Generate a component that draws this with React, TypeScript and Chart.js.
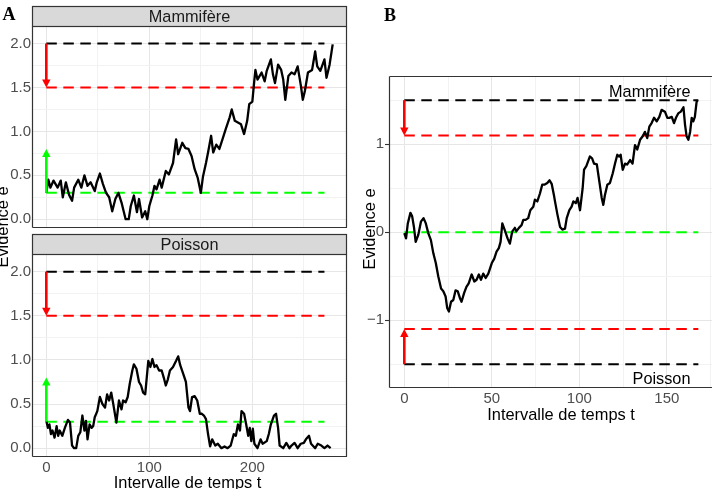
import React, { useEffect, useRef } from 'react';
import { Chart, registerables } from 'chart.js';

Chart.register(...registerables);

// ---------------- Data ----------------
// Panel A, facet "Mammifère"
const tMamA = [0,2,4,7,11,14,16,19,22,25,27,31,34,37,40,43,47,49,52,55,58,61,64,67,70,73,77,80,82,85,88,90,93,96,98,100,103,105,107,110,112,116,119,123,126,128,132,135,138,141,144,147,150,152,155,157,160,162,165,168,171,174,178,180,183,186,189,192,195,197,200,202,203,205,209,212,214,218,220,222,225,228,230,232,235,238,241,244,247,249,251,254,258,261,263,266,270,272,275,278];
const eMamA = [0.30,0.45,0.36,0.44,0.36,0.44,0.25,0.42,0.28,0.21,0.36,0.45,0.36,0.50,0.38,0.42,0.32,0.42,0.52,0.40,0.30,0.25,0.09,0.23,0.30,0.19,0.0,0.0,0.15,0.27,0.08,0.23,0.02,0.09,0.0,0.15,0.27,0.38,0.34,0.45,0.36,0.55,0.51,0.64,0.91,0.74,0.87,0.81,0.80,0.72,0.57,0.47,0.30,0.48,0.64,0.76,0.95,0.76,0.85,0.80,0.91,1.02,1.16,1.25,1.12,1.10,1.08,0.97,1.12,1.31,1.34,1.59,1.70,1.59,1.67,1.57,1.69,1.82,1.65,1.55,1.76,1.70,1.59,1.36,1.63,1.67,1.65,1.74,1.53,1.36,1.46,1.67,1.70,1.91,1.74,1.69,1.82,1.61,1.76,1.99];

// Panel A, facet "Poisson"
const tPoiA = [0,1.5,3,4.5,6,8,10,11.5,13,15.5,18,21,23,25,27,29,31,33,35,37,38.5,40,42,44,45.5,47,49.5,52,54.5,57,59,61,63,65,68,70.5,73,74.5,77,79,81,83.5,85,87.5,90,92,94,96,99,101,103,105,107,109.5,112,114,116,118,120,123,126,128,130,133,135.5,138,139.5,141.5,144,146.5,149,151,153,155,157,159,161,164,166.5,170,173,176,179,182,184,186,188,189.5,192,194,196,197.5,199,200.5,202,205,208,210,214,216,218,221,223,225,226.5,230,233,236,238,241,244,247,250,252,255,257,261,263.5,267,270,273,276];
const ePoiA = [0.31,0.23,0.27,0.16,0.20,0.12,0.25,0.14,0.20,0.14,0.23,0.32,0.29,0.03,0,0,0.14,0.18,0.37,0.20,0.31,0.10,0.27,0.23,0.25,0.35,0.42,0.58,0.50,0.46,0.61,0.54,0.63,0.50,0.29,0.54,0.44,0.54,0.52,0.58,0.73,0.88,0.95,0.90,0.75,0.71,0.63,0.61,0.99,0.92,1.01,0.92,0.94,0.88,0.88,0.80,0.71,0.78,0.88,0.92,0.99,1.04,0.94,0.84,0.75,0.46,0.42,0.58,0.59,0.54,0.39,0.39,0.37,0.33,0.16,0.02,0.10,0.03,0.05,0,0.02,0,0.03,0.16,0.14,0.27,0.20,0.42,0.39,0.27,0.14,0.23,0.08,0.22,0.05,0,0.10,0.05,0.08,0.16,0.27,0.37,0.39,0.23,0.03,0,0.06,0,0.03,0.06,0,0.05,0.06,0.10,0.14,0.05,0,0.05,0.03,0,0.03,0];

// Panel B
const tB = [0,1,2,3.5,4.5,5.5,6.5,8,9.5,11,12.3,13.7,15.2,16.6,18,19.4,21,22.3,23.6,24.5,25.5,26.7,28,29.3,30.5,31.8,32.7,34.2,35.5,36.8,38.5,40,41.3,42.6,43.8,45.1,46.5,48,50,51.4,52.7,54,55,56,57.3,59,60.3,61.7,63.2,64,65.5,67,68,69.3,70.8,72,73.7,74.6,76,77.5,78.8,80,81.7,83,84.2,85.5,86.1,87.5,89,90.3,91.8,92.8,94.3,95.6,96.6,98,99,100.4,101.9,102.7,104,106,107.3,108.4,110,111.4,112.8,113.7,114.6,116,117.5,119.1,120.4,121.7,122.8,123.6,124.8,126.1,127.4,129,130.4,131.8,133.1,134.7,136.2,137.5,138.8,140,141.3,142.7,144.2,145.7,147,148.9,150.3,151.4,152.8,154.1,155.2,156.5,158,159.5,160.4,161.3,162.3,163.3,164.2,165.1,166,167,167.6];
const eB = [-0.01,-0.07,0.10,0.22,0.18,0.06,-0.11,-0.03,0.12,0.16,0.10,-0.01,-0.09,-0.24,-0.35,-0.50,-0.64,-0.67,-0.73,-0.86,-0.90,-0.79,-0.77,-0.66,-0.67,-0.75,-0.79,-0.69,-0.62,-0.58,-0.48,-0.56,-0.54,-0.48,-0.54,-0.47,-0.52,-0.47,-0.35,-0.30,-0.22,-0.18,-0.11,0.10,0.03,-0.07,-0.13,0.01,0.05,0.01,0.05,0.08,0.14,0.14,0.16,0.25,0.29,0.37,0.35,0.44,0.54,0.54,0.56,0.59,0.55,0.42,0.35,0.20,0.06,0.03,0.04,0.16,0.25,0.29,0.35,0.33,0.39,0.25,0.50,0.71,0.75,0.86,0.84,0.78,0.77,0.58,0.39,0.31,0.42,0.54,0.56,0.67,0.78,0.88,0.86,0.88,0.71,0.78,0.77,0.82,0.78,0.99,0.94,1.05,1.09,1.14,1.07,1.20,1.24,1.30,1.26,1.31,1.39,1.37,1.30,1.30,1.31,1.24,1.30,1.35,1.37,1.42,1.22,1.09,1.05,1.14,1.30,1.26,1.31,1.48,1.50];

// Thresholds
const A_UPPER = 2.0;
const A_RED = 1.5;
const A_GREEN = 0.3;
const A_GREEN_ARROW_TIP = 0.8;
const A_LINE_END = 270;
const B_UPPER = 1.5;
const B_RED = 1.1;
const B_GREEN = 0;
const B_LINE_END = 168;

// Tick labels
const ticksAx = [0, 100, 200];
const ticksAy = [0, 0.5, 1.0, 1.5, 2.0];
const ticksBx = [0, 50, 100, 150];
const ticksBy = [-1, 0, 1];

// Facet and text labels
const facetTop = 'Mammifère';
const facetBottom = 'Poisson';
const xTitle = 'Intervalle de temps t';
const yTitle = 'Evidence e';

// ---------------- Styling ----------------
const FONT = "'Liberation Sans', Arial, Helvetica, sans-serif";
const SERIF = "'Liberation Serif', 'Times New Roman', serif";
const GRID_MAJOR = '#E6E6E6';
const GRID_MINOR = '#F2F2F2';
const RED = '#FF0000';
const GREEN = '#00FF00';
const DASH = [10.5, 6.5];

const zip = (t: number[], e: number[]) => t.map((x, i) => ({ x, y: e[i] }));
const steps = (a: number, b: number, s: number) => {
  const out: number[] = [];
  for (let i = 0; a + i * s <= b + 1e-9; i++) out.push(+(a + i * s).toFixed(4));
  return out;
};
const hasVal = (arr: number[], v: number) => arr.some((m) => Math.abs(m - v) < 1e-6);
const minus = (v: number) => (v < 0 ? '\u2212' + Math.abs(v) : String(v));

function hLine(y: number, xEnd: number, color: string) {
  return {
    data: [{ x: 0, y }, { x: xEnd, y }],
    borderColor: color,
    borderWidth: 2,
    borderDash: DASH,
  };
}
function series(t: number[], e: number[]) {
  return { data: zip(t, e), borderColor: '#000000', borderWidth: 2.3 };
}

type Arrow = { x: number; from: number; to: number; color: string };
type Label = { text: string; x: number; y: number };
type Decor = {
  strip?: string;
  sides: string[];
  arrows: Arrow[];
  labels?: Label[];
  extra?: (ctx: CanvasRenderingContext2D) => void;
};

function makeDecor(cfg: Decor) {
  return {
    id: 'decor',
    afterDatasetsDraw(chart: any) {
      const { ctx, scales } = chart;
      const xs = scales.x;
      const ys = scales.y;
      ctx.save();
      for (const a of cfg.arrows) {
        const px = xs.getPixelForValue(a.x);
        const p0 = ys.getPixelForValue(a.from);
        const p1 = ys.getPixelForValue(a.to);
        const dir = p1 > p0 ? 1 : -1;
        const head = 8;
        const hw = 4.2;
        ctx.strokeStyle = a.color;
        ctx.fillStyle = a.color;
        ctx.lineWidth = 2.6;
        ctx.lineCap = 'butt';
        ctx.beginPath();
        ctx.moveTo(px, p0);
        ctx.lineTo(px, p1 - dir * head * 0.5);
        ctx.stroke();
        ctx.beginPath();
        ctx.moveTo(px, p1);
        ctx.lineTo(px - hw, p1 - dir * head);
        ctx.lineTo(px + hw, p1 - dir * head);
        ctx.closePath();
        ctx.fill();
      }
      ctx.restore();
    },
    afterDraw(chart: any) {
      const { ctx, chartArea: ca, scales } = chart;
      ctx.save();
      // annotations inside panel
      ctx.font = `16.3px ${FONT}`;
      ctx.fillStyle = '#000000';
      ctx.textAlign = 'right';
      ctx.textBaseline = 'alphabetic';
      for (const l of cfg.labels ?? []) {
        ctx.fillText(l.text, scales.x.getPixelForValue(l.x), scales.y.getPixelForValue(l.y));
      }
      // panel border
      ctx.strokeStyle = '#333333';
      ctx.lineWidth = 1.2;
      const L = Math.round(ca.left) + 0.5;
      const R = Math.round(ca.right) - 0.5;
      const T = Math.round(ca.top) + 0.5;
      const B = Math.round(ca.bottom) - 0.5;
      ctx.beginPath();
      if (cfg.sides.includes('top')) { ctx.moveTo(L, T); ctx.lineTo(ca.right, T); }
      if (cfg.sides.includes('bottom')) { ctx.moveTo(L, B); ctx.lineTo(ca.right, B); }
      if (cfg.sides.includes('left')) { ctx.moveTo(L, T); ctx.lineTo(L, B); }
      if (cfg.sides.includes('right')) { ctx.moveTo(R, T); ctx.lineTo(R, B); }
      ctx.stroke();
      // facet strip
      if (cfg.strip) {
        const h = 20;
        ctx.fillStyle = '#D9D9D9';
        ctx.fillRect(L, T - h, R - L, h);
        ctx.strokeRect(L, T - h, R - L, h);
        ctx.fillStyle = '#1A1A1A';
        ctx.font = `16.3px ${FONT}`;
        ctx.textAlign = 'center';
        ctx.textBaseline = 'alphabetic';
        ctx.fillText(cfg.strip, (ca.left + ca.right) / 2, T - 4.5);
      }
      if (cfg.extra) cfg.extra(ctx);
      ctx.restore();
    },
  };
}

function drawVertical(ctx: CanvasRenderingContext2D, text: string, baseX: number, cy: number) {
  ctx.save();
  ctx.translate(baseX, cy);
  ctx.rotate(-Math.PI / 2);
  ctx.font = `16.4px ${FONT}`;
  ctx.fillStyle = '#000000';
  ctx.textAlign = 'center';
  ctx.textBaseline = 'alphabetic';
  ctx.fillText(text, 0, 0);
  ctx.restore();
}
function drawTitle(ctx: CanvasRenderingContext2D, text: string, cx: number, baseY: number) {
  ctx.save();
  ctx.font = `16.4px ${FONT}`;
  ctx.fillStyle = '#000000';
  ctx.textAlign = 'center';
  ctx.textBaseline = 'alphabetic';
  ctx.fillText(text, cx, baseY);
  ctx.restore();
}
function drawTag(ctx: CanvasRenderingContext2D, text: string, x: number, baseY: number) {
  ctx.save();
  ctx.font = `bold 18px ${SERIF}`;
  ctx.fillStyle = '#000000';
  ctx.textAlign = 'left';
  ctx.textBaseline = 'alphabetic';
  ctx.fillText(text, x, baseY);
  ctx.restore();
}

type Params = {
  datasets: any[];
  xMin: number; xMax: number; yMin: number; yMax: number;
  xTicks: number[]; xMajor: number[];
  yTicks: number[]; yMajor: number[];
  yFmt: (v: number) => string;
  showX: boolean;
  padding: { top: number; left: number; right: number; bottom: number };
  yWidth: number; xHeight: number; yTickLen: number;
  decor: Decor;
};

function makeChart(canvas: HTMLCanvasElement, p: Params) {
  const tickFont = { family: FONT, size: 15 };
  return new Chart(canvas, {
    type: 'line',
    data: { datasets: p.datasets },
    options: {
      responsive: false,
      animation: false,
      events: [],
      layout: { padding: p.padding, autoPadding: false },
      plugins: { legend: { display: false }, tooltip: { enabled: false } },
      elements: {
        point: { radius: 0 },
        line: { tension: 0, fill: false, borderJoinStyle: 'round', borderCapStyle: 'butt' },
      },
      scales: {
        x: {
          type: 'linear',
          min: p.xMin,
          max: p.xMax,
          afterBuildTicks: (s: any) => { s.ticks = p.xTicks.map((v) => ({ value: v })); },
          afterFit: (s: any) => { s.height = p.xHeight; s.paddingLeft = 0; s.paddingRight = 0; },
          border: { display: false },
          grid: {
            color: (c: any) => (c.tick && !hasVal(p.xMajor, c.tick.value) ? GRID_MINOR : GRID_MAJOR),
            lineWidth: 1,
            drawTicks: false,
          },
          ticks: {
            display: p.showX,
            autoSkip: false,
            maxRotation: 0,
            padding: 2,
            color: '#4D4D4D',
            font: tickFont,
            callback: (v: any) => (hasVal(p.xMajor, Number(v)) ? String(v) : ''),
          },
        },
        y: {
          type: 'linear',
          min: p.yMin,
          max: p.yMax,
          afterBuildTicks: (s: any) => { s.ticks = p.yTicks.map((v) => ({ value: v })); },
          afterFit: (s: any) => { s.width = p.yWidth; s.paddingTop = 0; s.paddingBottom = 0; },
          border: { display: false },
          grid: {
            color: (c: any) => (c.tick && !hasVal(p.yMajor, c.tick.value) ? GRID_MINOR : GRID_MAJOR),
            lineWidth: 1,
            drawTicks: p.yTickLen > 0,
            tickLength: p.yTickLen,
            tickWidth: 1.1,
            tickColor: (c: any) => (c.tick && hasVal(p.yMajor, c.tick.value) ? '#333333' : 'rgba(0,0,0,0)'),
          },
          ticks: {
            autoSkip: false,
            padding: 1,
            color: '#4D4D4D',
            font: tickFont,
            callback: (v: any) => (hasVal(p.yMajor, Number(v)) ? p.yFmt(Number(v)) : ''),
          },
        },
      },
    } as any,
    plugins: [makeDecor(p.decor) as any],
  });
}

const fmtA = (v: number) => v.toFixed(1);

export default function App() {
  const refA1 = useRef<HTMLCanvasElement>(null);
  const refA2 = useRef<HTMLCanvasElement>(null);
  const refB = useRef<HTMLCanvasElement>(null);

  useEffect(() => {
    const axA = { xMin: -13.9, xMax: 291.9, yMin: -0.1, yMax: 2.2 };
    const xTicksA = steps(0, 250, 50);
    const yTicksA = steps(0, 2.0, 0.25);
    const arrowsA: Arrow[] = [
      { x: 0, from: A_UPPER, to: A_RED, color: RED },
      { x: 0, from: A_GREEN, to: A_GREEN_ARROW_TIP, color: GREEN },
    ];
    const linesA = () => [hLine(A_UPPER, A_LINE_END, '#000000'), hLine(A_RED, A_LINE_END, RED), hLine(A_GREEN, A_LINE_END, GREEN)];

    const c1 = makeChart(refA1.current!, {
      datasets: [series(tMamA, eMamA), ...linesA()],
      ...axA,
      xTicks: xTicksA, xMajor: ticksAx,
      yTicks: yTicksA, yMajor: ticksAy, yFmt: fmtA,
      showX: false,
      padding: { top: 26, left: 0, right: 5, bottom: 261 },
      yWidth: 32, xHeight: 0, yTickLen: 0,
      decor: {
        strip: facetTop,
        sides: ['top', 'bottom', 'left', 'right'],
        arrows: arrowsA,
        extra: (ctx) => {
          drawTag(ctx, 'A', 2.5, 20);
          drawVertical(ctx, yTitle, 7.5, 227);
        },
      },
    });

    const c2 = makeChart(refA2.current!, {
      datasets: [series(tPoiA, ePoiA), ...linesA()],
      ...axA,
      xTicks: xTicksA, xMajor: ticksAx,
      yTicks: yTicksA, yMajor: ticksAy, yFmt: fmtA,
      showX: true,
      padding: { top: 22, left: 0, right: 5, bottom: 0 },
      yWidth: 32, xHeight: 32, yTickLen: 0,
      decor: {
        strip: facetBottom,
        sides: ['top', 'bottom', 'left', 'right'],
        arrows: arrowsA,
        extra: (ctx) => {
          drawTitle(ctx, xTitle, 187.5, 256);
        },
      },
    });

    const c3 = makeChart(refB.current!, {
      datasets: [
        series(tB, eB),
        hLine(B_UPPER, B_LINE_END, '#000000'),
        hLine(B_RED, B_LINE_END, RED),
        hLine(B_GREEN, B_LINE_END, GREEN),
        hLine(-B_RED, B_LINE_END, RED),
        hLine(-B_UPPER, B_LINE_END, '#000000'),
      ],
      xMin: -8.74, xMax: 175.8, yMin: -1.77, yMax: 1.775,
      xTicks: steps(0, 175, 25), xMajor: ticksBx,
      yTicks: steps(-1.5, 1.5, 0.5), yMajor: ticksBy, yFmt: minus,
      showX: true,
      padding: { top: 76, left: 0, right: 0, bottom: 0 },
      yWidth: 37, xHeight: 101, yTickLen: 4,
      decor: {
        sides: ['top', 'bottom', 'left'],
        arrows: [
          { x: 0, from: B_UPPER, to: B_RED, color: RED },
          { x: 0, from: -B_UPPER, to: -B_RED, color: RED },
        ],
        labels: [
          { text: facetTop, x: 163.5, y: 1.54 },
          { text: facetBottom, x: 163.5, y: -1.73 },
        ],
        extra: (ctx) => {
          drawTag(ctx, 'B', 32, 21);
          drawVertical(ctx, yTitle, 23, 229);
          drawTitle(ctx, xTitle, 209, 420);
        },
      },
    });

    return () => {
      c1.destroy();
      c2.destroy();
      c3.destroy();
    };
  }, []);

  return (
    <div style={{ position: 'absolute', left: 0, top: 0, width: 712, height: 489, overflow: 'hidden', background: '#ffffff' }}>
      <canvas ref={refA1} width={352} height={489} style={{ position: 'absolute', left: 0, top: 0 }} />
      <canvas ref={refA2} width={352} height={257} style={{ position: 'absolute', left: 0, top: 232 }} />
      <canvas ref={refB} width={360} height={489} style={{ position: 'absolute', left: 352, top: 0 }} />
    </div>
  );
}
